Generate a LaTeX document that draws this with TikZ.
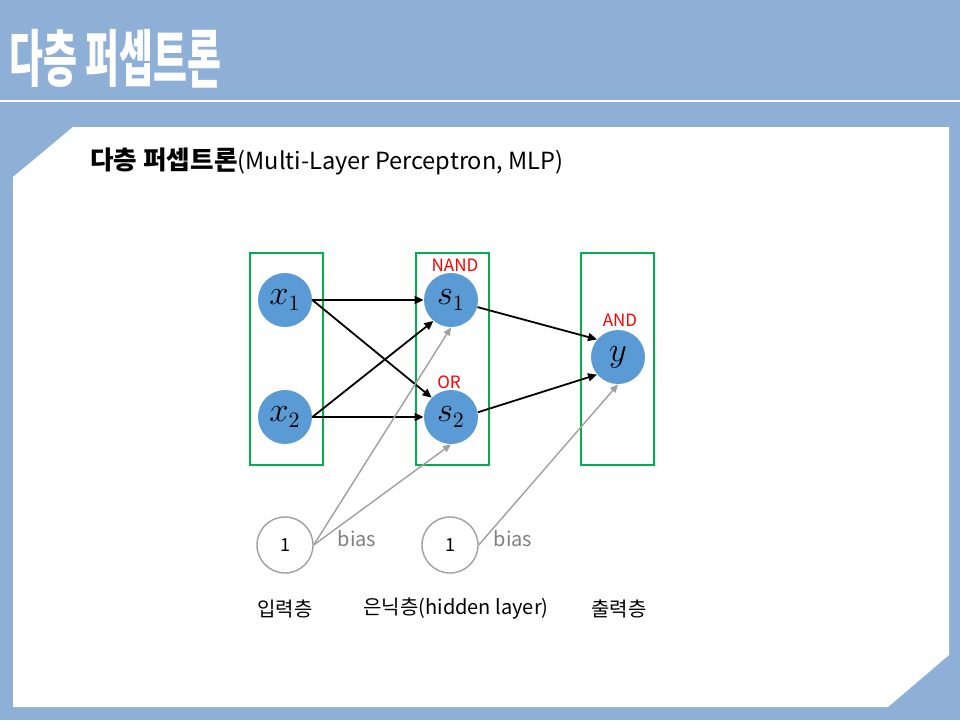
\documentclass[tikz,border=0pt]{standalone}
\usepackage{graphicx}
\usepackage{fontspec}
\setmainfont{Noto Sans CJK KR}
\usetikzlibrary{arrows.meta,positioning}
\definecolor{slide}{RGB}{143,176,214}
\definecolor{nodeblue}{RGB}{91,155,213}
\definecolor{layergreen}{RGB}{0,176,80}
\definecolor{biasgray}{RGB}{160,160,160}
\definecolor{biastext}{RGB}{128,128,128}

\begin{document}
\begin{tikzpicture}[x=0.5pt,y=-0.5pt,
    neuron/.style={circle,fill=nodeblue,minimum size=27pt,inner sep=0pt,font=\fontsize{16pt}{18pt}\selectfont},
    biasnode/.style={circle,draw=biasgray,line width=0.7pt,fill=white,minimum size=28pt,inner sep=0pt,font=\fontsize{9pt}{11pt}\selectfont},
    layer/.style={draw=layergreen,line width=0.8pt},
    gate/.style={text=red,inner sep=0pt,font=\fontsize{8.5pt}{10pt}\selectfont},
    wire/.style={-{Triangle[length=4.5pt,width=4pt]},line width=0.9pt},
    biaswire/.style={-{Triangle[length=4pt,width=3.5pt]},draw=biasgray,fill=biasgray,line width=0.7pt},
    caption/.style={inner sep=0pt,font=\fontsize{10pt}{12pt}\selectfont},
    >=Latex]
  \useasboundingbox (0,0) rectangle (960,720);
  % slide background
  \fill[slide] (0,0) rectangle (960,720);
  \draw[white,line width=1pt] (0,101) -- (960,101);
  \fill[white] (13,177) -- (73,127) -- (949,127) -- (949,655) -- (888,707) -- (13,707) -- cycle;
  \node[anchor=north west,inner sep=0pt,text=white] (title) at (9,29)
    {\resizebox*{106pt}{29.5pt}{\bfseries 다층 퍼셉트론}};
  \node[anchor=west,inner sep=0pt,font=\fontsize{11.8pt}{14pt}\selectfont] (subtitle) at (90,161)
    {{\fontsize{12.8pt}{14pt}\selectfont\bfseries 다층 퍼셉트론}(Multi-Layer Perceptron, MLP)};
  % layers
  \draw[layer] (250,253) rectangle (323,465);
  \draw[layer] (416,253) rectangle (489,465);
  \draw[layer] (581,253) rectangle (654,465);
  \node[neuron] (x1) at (285,300) {$x_1$};
  \node[neuron] (x2) at (285,417) {$x_2$};
  \node[neuron] (s1) at (451,300) {$s_1$};
  \node[neuron] (s2) at (451,417) {$s_2$};
  \node[neuron] (y) at (618,357) {$y$};
  \node[gate] (nand) at (455,265) {NAND};
  \node[gate] (or) at (449,382) {OR};
  \node[gate] (and) at (620,320) {AND};
  \node[biasnode] (b1) at (285,545) {1};
  \node[biasnode] (b2) at (450,545) {1};
  \node[caption,text=biastext] (bias1) at (357,539) {bias};
  \node[caption,text=biastext] (bias2) at (513,539) {bias};
  \node[caption] (inlabel) at (285,609) {입력층};
  \node[caption] (hidlabel) at (456,609) {은닉층(hidden layer)};
  \node[caption] (outlabel) at (619,609) {출력층};
  % connections
  \draw[wire] (x1.east) -- (s1.west);
  \draw[wire] (x1.east) -- (s2.135);
  \draw[wire] (x2.east) -- (s1.230);
  \draw[wire] (x2.east) -- (s2.west);
  \draw[wire] (s1.-15) -- (y.140);
  \draw[wire] (s2.10) -- (y.220);
  \draw[biaswire] (b1.east) -- (s1.south);
  \draw[biaswire] (b1.east) -- (s2.south);
  \draw[biaswire] (b2.east) -- (y.south);
\end{tikzpicture}
\end{document}
